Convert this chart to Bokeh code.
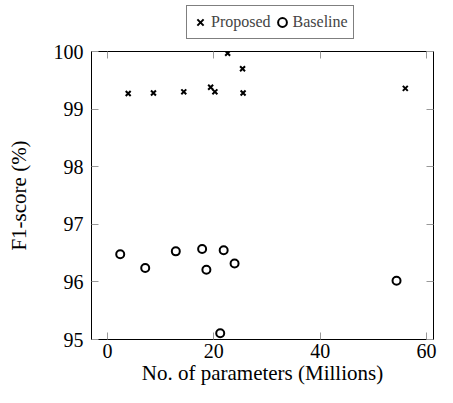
from bokeh.plotting import figure
from bokeh.layouts import column
from bokeh.models import Range1d, LinearAxis, SingleIntervalTicker, Legend, LegendItem, CustomJSTickFormatter
from bokeh.embed import file_html
from bokeh.resources import INLINE

# Data
proposed_params = [3.9, 8.65, 14.35, 19.4, 20.2, 22.6, 25.4, 25.5, 56.0]
proposed_f1 = [99.27, 99.28, 99.30, 99.38, 99.30, 99.97, 99.70, 99.28, 99.36]
baseline_params = [2.4, 7.1, 12.85, 17.8, 18.6, 21.85, 23.9, 21.2, 54.35]
baseline_f1 = [96.48, 96.24, 96.53, 96.57, 96.21, 96.55, 96.32, 95.11, 96.02]

x_ticks_interval = 20
y_ticks_interval = 1
x_label = "No. of parameters (Millions)"
y_label = "F1-score (%)"
series_names = ["Proposed", "Baseline"]

FONT = "Liberation Serif"
W = 437

# ---- main plot ----
p = figure(width=W, height=347, output_backend="svg", toolbar_location=None,
           x_range=Range1d(-3.0, 61.3), y_range=Range1d(95, 100),
           min_border_left=91, min_border_right=0, min_border_top=11, min_border_bottom=0)
p.xgrid.grid_line_color = None
p.ygrid.grid_line_color = None
p.outline_line_color = "black"
p.outline_line_width = 1
p.background_fill_color = "white"
p.border_fill_color = "white"

p.scatter(proposed_params, proposed_f1, marker="x", size=7, line_width=2, line_color="black")
p.scatter(baseline_params, baseline_f1, marker="circle", size=8, line_width=2,
          line_color="black", fill_color=None)

xt = SingleIntervalTicker(interval=x_ticks_interval, num_minor_ticks=0)
yt = SingleIntervalTicker(interval=y_ticks_interval, num_minor_ticks=0)

for ax, t in ((p.xaxis[0], xt), (p.yaxis[0], yt)):
    ax.ticker = t
    ax.major_tick_in = 7
    ax.major_tick_out = 0
    ax.minor_tick_in = 0
    ax.minor_tick_out = 0
    ax.major_tick_line_color = "#999999"
    ax.axis_line_color = "black"
    ax.major_label_text_font = FONT
    ax.major_label_text_font_size = "20px"
    ax.major_label_text_color = "black"
    ax.axis_label_text_font = FONT
    ax.axis_label_text_font_size = "21px"
    ax.axis_label_text_font_style = "normal"
    ax.axis_label_text_color = "black"

p.xaxis[0].axis_label = x_label
p.yaxis[0].axis_label = y_label
p.xaxis[0].major_label_standoff = 4
p.yaxis[0].major_label_standoff = 8
p.xaxis[0].axis_label_standoff = 0
p.yaxis[0].axis_label_standoff = 20

blank = CustomJSTickFormatter(code="return ' '")
for side, t, fs in (("right", yt, "4px"), ("above", xt, "4px")):
    a = LinearAxis(ticker=t, formatter=blank, major_label_text_font_size=fs,
                   major_label_standoff=0, axis_line_color=None,
                   major_tick_in=7, major_tick_out=0, minor_tick_in=0, minor_tick_out=0,
                   major_tick_line_color="#999999")
    p.add_layout(a, side)

# ---- legend strip above the plot ----
lg = figure(width=W, height=40, output_backend="svg", toolbar_location=None,
            x_range=Range1d(-3.0, 61.3), y_range=Range1d(0, 1),
            x_axis_type=None, y_axis_type=None,
            min_border_left=0, min_border_right=0, min_border_top=0, min_border_bottom=0)
lg.xgrid.grid_line_color = None
lg.ygrid.grid_line_color = None
lg.outline_line_color = None
# same series, outside this strip's view: only their legend glyphs show
l1 = lg.scatter(proposed_params, proposed_f1, marker="x", line_width=2, line_color="black")
l2 = lg.scatter(baseline_params, baseline_f1, marker="circle", line_width=2,
                line_color="black", fill_color=None)

legend = Legend(items=[LegendItem(label=series_names[0], renderers=[l1]),
                       LegendItem(label=series_names[1], renderers=[l2])],
                orientation="horizontal", location=(95, 1),
                label_text_font=FONT, label_text_font_size="16px", label_width=58,
                glyph_width=22, glyph_height=28, label_standoff=0, spacing=0,
                padding=2, margin=0, border_line_color="black", border_line_width=1,
                background_fill_alpha=1)
lg.add_layout(legend, "center")

open("out.html", "w").write(file_html(column(lg, p, spacing=0), INLINE))
